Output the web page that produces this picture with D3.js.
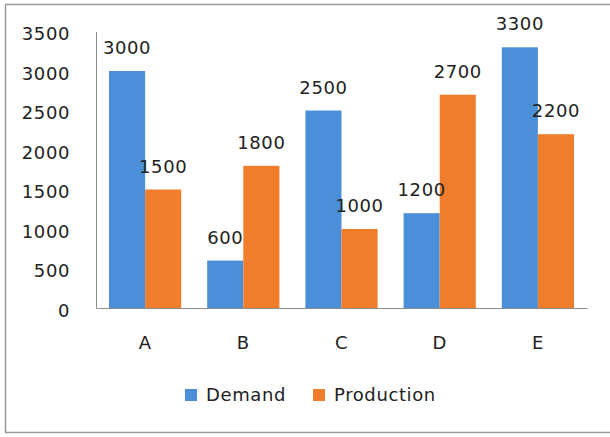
<!DOCTYPE html>
<html>
<head>
<meta charset="utf-8">
<script src="https://cdn.jsdelivr.net/npm/d3@7"></script>
<style>
  body { margin: 0; background: #fff; }
  text { font-family: "DejaVu Sans", sans-serif; fill: #222; font-size: 18px; letter-spacing: 0.6px; }
</style>
</head>
<body>
<svg id="chart1"></svg>
<script>
let w = 610;
let h = 437;

// data
let categories = ["A", "B", "C", "D", "E"];
let seriesNames = ["Demand", "Production"];
let demand = [3000, 600, 2500, 1200, 3300];
let production = [1500, 1800, 1000, 2700, 2200];
let yTicks = [0, 500, 1000, 1500, 2000, 2500, 3000, 3500];

let colors = ["#4b8fd8", "#f07d2b"];

let svg = d3.select('#chart1').attr('width', w).attr('height', h);

// outer frame
svg.append('rect')
  .attr('x', 5.5).attr('y', 4.5)
  .attr('width', 620).attr('height', 428)
  .attr('fill', 'none')
  .attr('stroke', '#9a9a9a')
  .attr('stroke-width', 1.5);

let xScale = d3.scaleBand()
  .domain(categories)
  .range([96, 587]);

let innerScale = d3.scaleBand()
  .domain(seriesNames)
  .range([0, xScale.bandwidth()])
  .paddingOuter(0.36)
  .paddingInner(0);

let yScale = d3.scaleLinear()
  .domain([0, 3500])
  .range([308, 31.5]);

let rows = categories.map((c, i) => ({
  cat: c,
  vals: [
    { name: seriesNames[0], value: demand[i] },
    { name: seriesNames[1], value: production[i] }
  ]
}));

let groups = svg.selectAll('g.cat')
  .data(rows)
  .enter()
  .append('g')
  .attr('class', 'cat')
  .attr('transform', (d) => `translate(${xScale(d.cat)},0)`);

groups.selectAll('rect')
  .data((d) => d.vals)
  .enter()
  .append('rect')
  .attr('x', (d) => innerScale(d.name))
  .attr('y', (d) => yScale(d.value))
  .attr('width', innerScale.bandwidth())
  .attr('height', (d) => yScale(0) - yScale(d.value))
  .attr('fill', (d, i) => colors[i]);

groups.selectAll('text.val')
  .data((d) => d.vals)
  .enter()
  .append('text')
  .attr('class', 'val')
  .attr('x', (d) => innerScale(d.name) + innerScale.bandwidth() / 2)
  .attr('y', (d) => yScale(d.value) - 17)
  .attr('text-anchor', 'middle')
  .text((d) => d.value);

// AXES
let yAxis = d3.axisLeft(yScale).tickValues(yTicks).tickFormat(d3.format('d'))
  .tickSize(0).tickPadding(26);
let yAxisGroup = svg.append('g')
  .attr('transform', `translate(96,0)`)
  .call(yAxis);
yAxisGroup.select('.domain').attr('stroke', '#8c8c8c');
yAxisGroup.selectAll('text')
  .attr('dy', '0.45em')
  .style('font-size', '18px')
  .style('font-family', null);

let xAxis = d3.axisBottom(xScale).tickSize(0).tickPadding(28);
let xAxisGroup = svg.append('g')
  .attr('transform', `translate(0,308)`)
  .call(xAxis);
xAxisGroup.select('.domain').attr('stroke', '#8c8c8c');
xAxisGroup.selectAll('text').style('font-size', '18px');

// d3 axis sets its own font on the group, clear it so the css rule wins
yAxisGroup.attr('font-family', null).attr('font-size', null);
xAxisGroup.attr('font-family', null).attr('font-size', null);

// legend
let legendX = [185, 313];
let legend = svg.selectAll('g.legend')
  .data(seriesNames)
  .enter()
  .append('g')
  .attr('class', 'legend')
  .attr('transform', (d, i) => `translate(${legendX[i]},395)`);

legend.append('rect')
  .attr('x', 0).attr('y', -6)
  .attr('width', 12).attr('height', 12)
  .attr('fill', (d, i) => colors[i]);

legend.append('text')
  .attr('x', 21)
  .attr('y', 0)
  .attr('dy', '0.36em')
  .text((d) => d);
</script>
</body>
</html>
